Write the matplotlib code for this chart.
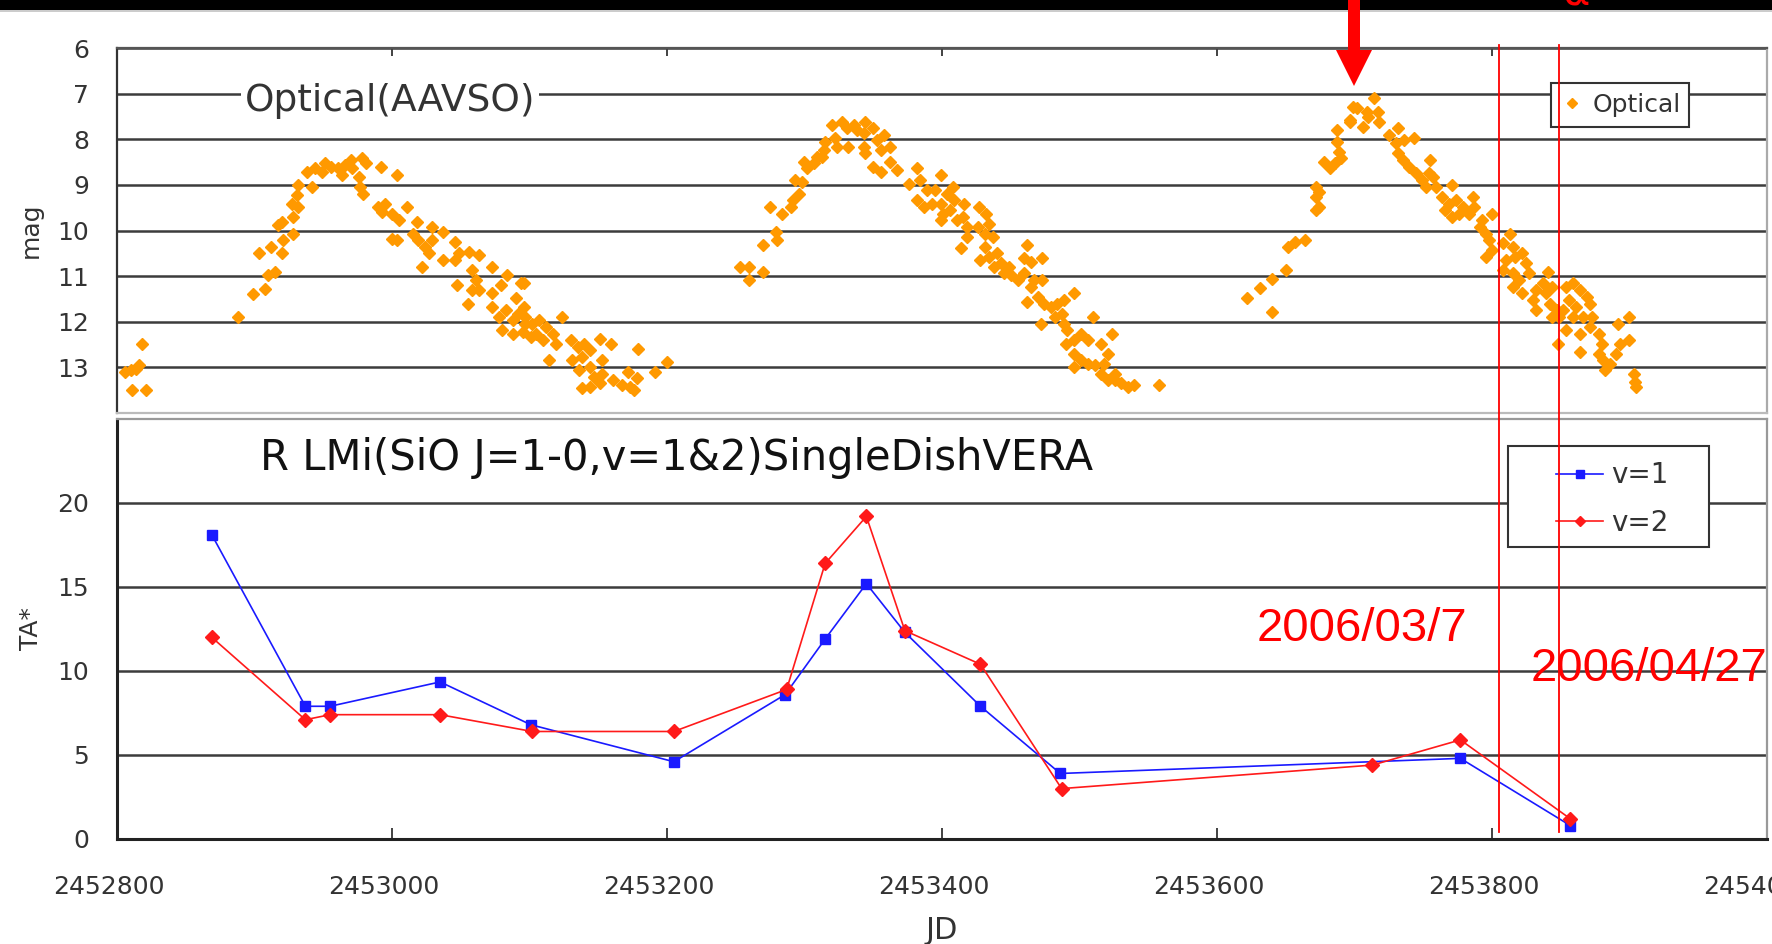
import numpy as np
import matplotlib.pyplot as plt
from matplotlib.patches import Polygon, Rectangle
from matplotlib.lines import Line2D
from matplotlib.transforms import blended_transform_factory, ScaledTranslation

# optical light curve (AAVSO), (JD, mag)
optical = [
    (2452806, 13.10), (2452810, 13.06), (2452814, 13.03), (2452816, 12.95), (2452818, 12.49),
    (2452811, 13.50), (2452821, 13.50), (2452888, 11.89), (2452899, 11.40), (2452908, 11.29),
    (2452910, 10.98), (2452915, 10.91), (2452903, 10.49), (2452912, 10.37), (2452920, 10.50),
    (2452921, 10.21), (2452917, 9.88), (2452920, 9.81), (2452928, 10.07), (2452928, 9.70),
    (2452927, 9.41), (2452932, 9.48), (2452931, 9.22), (2452932, 9.00), (2452942, 9.04),
    (2452938, 8.71), (2452944, 8.64), (2452951, 8.53), (2452956, 8.60), (2452949, 8.71),
    (2452961, 8.64), (2452966, 8.57), (2452971, 8.64), (2452964, 8.79), (2452970, 8.46),
    (2452978, 8.42), (2452981, 8.53), (2452976, 8.82), (2452977, 9.04), (2452979, 9.19),
    (2452992, 8.60), (2453004, 8.79), (2452990, 9.48), (2452995, 9.41), (2453000, 9.63),
    (2452993, 9.59), (2453005, 9.77), (2453011, 9.48), (2453018, 9.81), (2453000, 10.19),
    (2453004, 10.21), (2453015, 10.07), (2453019, 10.21), (2453024, 10.36), (2453029, 9.92),
    (2453037, 10.03), (2453029, 10.21), (2453027, 10.50), (2453037, 10.65), (2453022, 10.80),
    (2453046, 10.25), (2453049, 10.50), (2453046, 10.65), (2453056, 10.47), (2453063, 10.54),
    (2453058, 10.87), (2453061, 11.09), (2453047, 11.20), (2453055, 11.60), (2453058, 11.31),
    (2453063, 11.31), (2453073, 10.80), (2453073, 11.38), (2453079, 11.20), (2453084, 10.98),
    (2453094, 11.16), (2453073, 11.67), (2453078, 11.89), (2453083, 11.75), (2453088, 11.97),
    (2453092, 11.82), (2453097, 12.04), (2453080, 12.18), (2453088, 12.26), (2453095, 12.22),
    (2453101, 12.33), (2453090, 11.49), (2453096, 11.16), (2453096, 11.67), (2453097, 11.89),
    (2453102, 12.04), (2453107, 11.97), (2453112, 12.11), (2453117, 12.26), (2453105, 12.26),
    (2453110, 12.40), (2453119, 12.48), (2453114, 12.84), (2453124, 11.89), (2453130, 12.40),
    (2453135, 12.55), (2453140, 12.48), (2453144, 12.62), (2453131, 12.84), (2453138, 12.77),
    (2453136, 13.06), (2453144, 12.99), (2453147, 13.21), (2453151, 13.35), (2453153, 13.14),
    (2453144, 13.43), (2453138, 13.46), (2453151, 12.37), (2453159, 12.49), (2453153, 12.84),
    (2453161, 13.28), (2453167, 13.39), (2453173, 13.43), (2453172, 13.10), (2453178, 13.24),
    (2453176, 13.50), (2453179, 12.59), (2453191, 13.10), (2453200, 12.88),
    (2453253, 10.80), (2453260, 10.80), (2453260, 11.09), (2453270, 10.91), (2453270, 10.32),
    (2453279, 10.03), (2453280, 10.21), (2453275, 9.48), (2453284, 9.63), (2453290, 9.48),
    (2453292, 9.33), (2453296, 9.19), (2453293, 8.90), (2453298, 8.93), (2453302, 8.64),
    (2453300, 8.49), (2453307, 8.53), (2453309, 8.38), (2453314, 8.24), (2453313, 8.38),
    (2453315, 8.05), (2453322, 7.98), (2453324, 8.16), (2453320, 7.69), (2453327, 7.62),
    (2453331, 7.76), (2453336, 7.69), (2453344, 7.62), (2453338, 7.80), (2453343, 7.87),
    (2453332, 8.16), (2453343, 8.16), (2453344, 8.31), (2453350, 7.76), (2453358, 7.91),
    (2453353, 8.02), (2453356, 8.24), (2453362, 8.16), (2453350, 8.60), (2453356, 8.71),
    (2453362, 8.49), (2453367, 8.68), (2453376, 8.97), (2453382, 8.64), (2453384, 8.90),
    (2453389, 9.11), (2453382, 9.33), (2453387, 9.48), (2453393, 9.41), (2453399, 8.79),
    (2453399, 9.77), (2453395, 9.11), (2453399, 9.41), (2453404, 9.19), (2453408, 9.04),
    (2453401, 9.63), (2453406, 9.55), (2453409, 9.33), (2453411, 9.77), (2453416, 9.41),
    (2453415, 9.70), (2453418, 9.92), (2453418, 10.14), (2453414, 10.39), (2453427, 9.48),
    (2453432, 9.63), (2453434, 9.85), (2453426, 9.92), (2453431, 10.07), (2453437, 10.14),
    (2453431, 10.36), (2453428, 10.65), (2453434, 10.58), (2453440, 10.50), (2453438, 10.80),
    (2453443, 10.72), (2453445, 10.94), (2453449, 10.80), (2453450, 10.98), (2453462, 10.32),
    (2453460, 10.61), (2453465, 10.69), (2453473, 10.61), (2453455, 11.09), (2453460, 10.94),
    (2453465, 11.23), (2453462, 11.56), (2453467, 11.09), (2453473, 11.09), (2453470, 11.45),
    (2453474, 11.60), (2453472, 12.04), (2453479, 11.67), (2453484, 11.60), (2453489, 11.53),
    (2453482, 11.89), (2453489, 12.04), (2453487, 11.82), (2453496, 11.38), (2453510, 11.89),
    (2453524, 12.26), (2453491, 12.18), (2453490, 12.48), (2453496, 12.40), (2453501, 12.26),
    (2453506, 12.40), (2453496, 12.70), (2453501, 12.84), (2453496, 12.99), (2453506, 12.92),
    (2453511, 12.95), (2453516, 12.48), (2453521, 12.70), (2453516, 13.14), (2453521, 13.28),
    (2453526, 13.14), (2453526, 13.28), (2453530, 13.35), (2453535, 13.43), (2453540, 13.39),
    (2453518, 12.92), (2453558, 13.39),
    (2453622, 11.49), (2453631, 11.27), (2453640, 11.78), (2453640, 11.07), (2453650, 10.87),
    (2453652, 10.36), (2453657, 10.25), (2453664, 10.21), (2453672, 9.04), (2453672, 9.26),
    (2453672, 9.55), (2453674, 9.48), (2453674, 9.15), (2453678, 8.49), (2453682, 8.64),
    (2453686, 8.53), (2453689, 8.27), (2453687, 8.05), (2453690, 8.42), (2453687, 7.80),
    (2453697, 7.62), (2453699, 7.29), (2453697, 7.58), (2453702, 7.32), (2453706, 7.73),
    (2453710, 7.51), (2453714, 7.10), (2453717, 7.40), (2453718, 7.62), (2453709, 7.40),
    (2453725, 7.91), (2453732, 7.76), (2453730, 8.09), (2453736, 8.02), (2453743, 7.98),
    (2453732, 8.31), (2453735, 8.46), (2453740, 8.60), (2453745, 8.75), (2453749, 8.90),
    (2453755, 8.46), (2453754, 8.75), (2453752, 9.04), (2453759, 9.04), (2453757, 8.82),
    (2453771, 9.00), (2453764, 9.26), (2453769, 9.41), (2453766, 9.55), (2453774, 9.33),
    (2453779, 9.48), (2453776, 9.63), (2453771, 9.70), (2453786, 9.26), (2453783, 9.63),
    (2453787, 9.48), (2453791, 9.92), (2453796, 10.07), (2453800, 9.63), (2453798, 10.21),
    (2453800, 10.43), (2453796, 10.58), (2453793, 9.77), (2453808, 10.28), (2453813, 10.07),
    (2453815, 10.36), (2453810, 10.65), (2453817, 10.58), (2453822, 10.50), (2453825, 10.72),
    (2453808, 10.87), (2453815, 10.94), (2453820, 11.09), (2453827, 10.94), (2453815, 11.23),
    (2453822, 11.38), (2453832, 11.31), (2453830, 11.53), (2453832, 11.75), (2453841, 10.91),
    (2453837, 11.16), (2453839, 11.38), (2453844, 11.23), (2453842, 11.60), (2453847, 11.75),
    (2453849, 11.89), (2453844, 11.89), (2453854, 11.23), (2453859, 11.16), (2453864, 11.31),
    (2453856, 11.53), (2453861, 11.67), (2453869, 11.45), (2453871, 11.60), (2453852, 11.75),
    (2453859, 11.89), (2453866, 11.89), (2453873, 11.89), (2453854, 12.18), (2453864, 12.26),
    (2453871, 12.11), (2453848, 12.48), (2453864, 12.66), (2453878, 12.26), (2453880, 12.48),
    (2453878, 12.70), (2453881, 12.84), (2453882, 13.06), (2453886, 12.92), (2453890, 12.70),
    (2453893, 12.48), (2453892, 12.04), (2453900, 11.89), (2453900, 12.40), (2453903, 13.14),
    (2453904, 13.32), (2453905, 13.43),
]

# SiO maser, single dish VERA
v1_jd = [2452869, 2452937, 2452955, 2453035, 2453101, 2453205, 2453286, 2453315,
         2453345, 2453373, 2453428, 2453486, 2453777, 2453857]
v1_ta = [18.1, 7.9, 7.9, 9.35, 6.8, 4.6, 8.6, 11.9, 15.2, 12.3, 7.9, 3.9, 4.8, 0.8]
v2_jd = [2452869, 2452937, 2452955, 2453035, 2453102, 2453205, 2453287, 2453315,
         2453345, 2453373, 2453428, 2453487, 2453713, 2453777, 2453857]
v2_ta = [12.0, 7.1, 7.4, 7.4, 6.4, 6.4, 8.9, 16.4, 19.2, 12.4, 10.4, 3.0, 4.4, 5.9, 1.2]

mark_jd = [2453805, 2453849]
mark_labels = ['2006/03/7', '2006/04/27']

W, H = 1772, 944
fig = plt.figure(figsize=(W / 100, H / 100), dpi=100)


def fx(px):
    return px / W


def fy(py):
    return 1 - py / H


grid_c = '#3c3c3c'
txt_c = '#333333'
orange = '#ff9900'
tick_fs = 18

ax1 = fig.add_axes([fx(117), fy(413), fx(1767) - fx(117), fy(48) - fy(413)])
ax2 = fig.add_axes([fx(117), fy(839), fx(1767) - fx(117), fy(419) - fy(839)])

# --- top panel: optical
opt = np.array(optical)
ax1.plot(opt[:, 0], opt[:, 1], ls='none', marker='D', ms=6.5, color=orange,
         mec=orange, label='Optical', zorder=3)
ax1.set_xlim(2452800, 2454000)
ax1.set_ylim(14, 6)
ax1.set_yticks(range(6, 14))
ax1.set_xticks(range(2452800, 2454001, 200))
ax1.xaxis.tick_top()
ax1.tick_params(axis='x', direction='in', length=6, width=1.2, color='#222',
                labeltop=False, labelbottom=False)
ax1.tick_params(axis='y', length=0, pad=20, labelsize=tick_fs, labelcolor=txt_c)
ax1.grid(axis='y', color=grid_c, lw=1.8)
ax1.set_axisbelow(True)
for s, c in zip(['left', 'top', 'right', 'bottom'], ['#333', '#555', '#aaa', '#bbb']):
    ax1.spines[s].set_color(c)
    ax1.spines[s].set_linewidth(1.6)
ax1.set_ylabel('mag', fontsize=18, color=txt_c)
ax1.yaxis.set_label_coords(-0.045, 0.5)
ax1.text(2452893, 7.17, 'Optical(AAVSO)', fontsize=27, color=txt_c, va='center',
         ha='left', bbox=dict(facecolor='white', edgecolor='none', pad=3), zorder=4)
ax1.add_patch(Rectangle((fx(1551), fy(127)), fx(1689) - fx(1551), 44 / H,
                        transform=fig.transFigure, facecolor='white', edgecolor='#333',
                        lw=1.5, zorder=4, clip_on=False))
leg1 = ax1.legend(loc='center left', bbox_to_anchor=(fx(1566), fy(105)),
                  bbox_transform=fig.transFigure, fontsize=18, frameon=False,
                  handlelength=0.5, handletextpad=0.55, borderpad=0, borderaxespad=0,
                  markerscale=0.85)
leg1.set_zorder(5)
for t in leg1.get_texts():
    t.set_color(txt_c)

# --- bottom panel: SiO masers
ax2.plot(v1_jd, v1_ta, color='#1a1aff', lw=1.2, marker='s', ms=7, label='v=1', zorder=3)
ax2.plot(v2_jd, v2_ta, color='#ff1a1a', lw=1.2, marker='D', ms=7, label='v=2', zorder=3)
ax2.set_xlim(2452800, 2454000)
ax2.set_ylim(0, 25)
ax2.set_yticks([0, 5, 10, 15, 20])
ax2.set_xticks(range(2452800, 2454001, 200))
ax2.ticklabel_format(axis='x', useOffset=False, style='plain')
ax2.tick_params(axis='x', direction='in', length=8, width=1.2, pad=26,
                labelsize=tick_fs, labelcolor=txt_c, color='#222')
ax2.tick_params(axis='y', length=0, pad=20, labelsize=tick_fs, labelcolor=txt_c)
ax2.grid(axis='y', color=grid_c, lw=1.8)
ax2.set_axisbelow(True)
for s, c, w in zip(['left', 'bottom', 'top', 'right'],
                   ['#222', '#222', '#999', '#999'], [2.2, 2.2, 1.6, 1.6]):
    ax2.spines[s].set_color(c)
    ax2.spines[s].set_linewidth(w)
shift = ScaledTranslation(-8 / 100, 0, fig.dpi_scale_trans)
for lab in ax2.get_xticklabels():
    lab.set_transform(lab.get_transform() + shift)
ax2.set_ylabel('TA*', fontsize=18, color=txt_c)
ax2.yaxis.set_label_coords(-0.045, 0.5)
ax2.set_xlabel('JD', fontsize=22, color=txt_c)
ax2.xaxis.set_label_coords(0.5, -0.183)
ax2.text(2452904, 22.7, 'R LMi(SiO J=1-0,v=1&2)SingleDishVERA', fontsize=30,
         color='#111', va='center', ha='left')
ax2.add_patch(Rectangle((fx(1508), fy(547)), fx(1709) - fx(1508), 101 / H,
                        transform=fig.transFigure, facecolor='white', edgecolor='#333',
                        lw=1.5, zorder=4, clip_on=False))
leg2 = ax2.legend(loc='center left', bbox_to_anchor=(fx(1556), fy(499)),
                  bbox_transform=fig.transFigure, fontsize=20, frameon=False,
                  handlelength=1.7, handletextpad=0.3, borderpad=0, borderaxespad=0,
                  labelspacing=0.7, markerscale=0.8)
leg2.set_zorder(5)
for t in leg2.get_texts():
    t.set_color(txt_c)

# annotation text for the two dates
ax2.text(2453629, 12.5, mark_labels[0], fontsize=34, family='Liberation Sans',
         color='red', va='center', ha='left', zorder=6)
ax2.text(2453828, 10.1, mark_labels[1], fontsize=34, family='Liberation Sans',
         color='red', va='center', ha='left', zorder=6, clip_on=False)

# red vertical markers spanning both panels
tr = blended_transform_factory(ax2.transData, fig.transFigure)
for jd in mark_jd:
    fig.add_artist(Line2D([jd, jd], [fy(45), fy(832)], transform=tr, color='red', lw=1.3, zorder=6))

# black bar at top, red arrow and cut off red glyph
fig.add_artist(Rectangle((0, fy(10)), 1, 10 / H, transform=fig.transFigure,
                         facecolor='black', edgecolor='none', zorder=7))
fig.add_artist(Rectangle((0, fy(12)), 1, 2 / H, transform=fig.transFigure,
                         facecolor='#cccccc', edgecolor='none', zorder=7))
arrow_px = [(1348, 0), (1360, 0), (1360, 50), (1372, 50), (1354, 86),
            (1336, 50), (1348, 50)]
fig.add_artist(Polygon([(fx(x), fy(y)) for x, y in arrow_px], closed=True,
                       transform=fig.transFigure, facecolor='red', edgecolor='none', zorder=8))
fig.text(fx(1576), fy(5), 'α', fontsize=30, color='red', ha='center', va='baseline', zorder=8)

fig.savefig('out.png', dpi=100)
